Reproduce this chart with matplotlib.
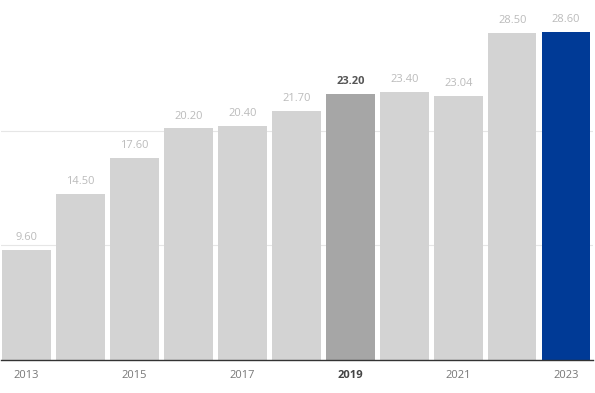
import matplotlib
matplotlib.use('Agg')
import matplotlib.pyplot as plt

years = ['2013', '2014', '2015', '2016', '2017', '2018', '2019', '2020', '2021', '2022', '2023']
values = [9.60, 14.50, 17.60, 20.20, 20.40, 21.70, 23.20, 23.40, 23.04, 28.50, 28.60]
highlight = '2019'
latest = '2023'

plt.rcParams['font.family'] = ['Open Sans', 'DejaVu Sans']

colors = []
for y in years:
    if y == latest:
        colors.append('#003a96')
    elif y == highlight:
        colors.append('#a6a6a6')
    else:
        colors.append('#d3d3d3')

fig = plt.figure(figsize=(5.95, 3.93), dpi=100)
ax = fig.add_axes([0.002, 0.084, 0.994, 0.916])

x = list(range(len(years)))
ax.bar(x, values, width=0.9, color=colors, zorder=2)

for i, v in enumerate(values):
    bold = years[i] == highlight
    ax.text(i, v + 0.6, '%.2f' % v, ha='center', va='bottom', fontsize=8,
            color='#555555' if bold else '#bbbbbb',
            fontweight='bold' if bold else 'normal')

ax.set_xlim(-0.47, 10.49)
ax.set_ylim(0, 31.4)
ax.set_yticks([10, 20])
ax.yaxis.grid(True, color='#e6e6e6', linewidth=0.8, zorder=0)
ax.tick_params(axis='y', length=0, labelleft=False)

ax.set_xticks(x[::2])
ax.set_xticklabels(years[::2], fontsize=8, color='#777777')
for lab in ax.get_xticklabels():
    if lab.get_text() == highlight:
        lab.set_fontweight('bold')
        lab.set_color('#444444')
ax.tick_params(axis='x', length=0, pad=7)

for s in ['top', 'right', 'left']:
    ax.spines[s].set_visible(False)
ax.spines['bottom'].set_color('#333333')
ax.spines['bottom'].set_linewidth(1.0)

fig.savefig('out.png', dpi=100)
